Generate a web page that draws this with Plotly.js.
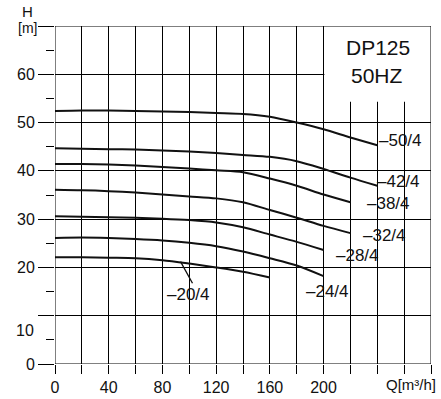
<!DOCTYPE html>
<html>
<head>
<meta charset="utf-8">
<script src="https://cdn.plot.ly/plotly-3.0.1.min.js"></script>
<style>html,body{margin:0;padding:0;background:#fff;}#chart{width:441px;height:399px;}</style>
</head>
<body>
<div id="chart"></div>
<script>
// ---- data ----
const curveNames = ["50/4", "42/4", "38/4", "32/4", "28/4", "24/4", "20/4"];
const q50 = [0,20,40,60,80,100,120,140,160,180,200,220,240];
const h50 = [52.4,52.5,52.5,52.4,52.3,52.2,52.0,51.8,51.2,50.0,48.6,46.9,45.3];
const q42 = [0,20,40,60,80,100,120,140,160,180,200,220,240];
const h42 = [44.7,44.6,44.5,44.4,44.2,44.0,43.7,43.3,42.9,42.0,40.4,38.6,36.9];
const q38 = [0,20,40,60,80,100,120,140,160,180,200,220];
const h38 = [41.4,41.4,41.3,41.1,40.8,40.5,40.1,39.7,38.4,36.9,35.1,33.5];
const q32 = [0,20,40,60,80,100,120,140,160,180,200,220];
const h32 = [36.1,36.0,35.8,35.5,35.1,34.7,34.3,33.5,31.9,30.3,28.6,27.1];
const q28 = [0,20,40,60,80,100,120,140,160,180,200];
const h28 = [30.6,30.5,30.4,30.3,30.1,29.8,29.3,28.3,26.8,25.3,23.6];
const q24 = [0,20,40,60,80,100,120,140,160,180,200];
const h24 = [26.1,26.2,26.1,25.9,25.6,25.1,24.4,23.3,21.9,20.4,18.2];
const q20 = [0,20,40,60,80,100,120,140,160];
const h20 = [22.1,22.1,22.0,21.9,21.5,20.8,20.0,19.1,17.9];

// label anchor points (q, H) for each curve name
const labelQ = [239.5, 238.5, 231.0, 228.0, 208.0, 185.5, 82.0];
const labelH = [46.2, 37.9, 33.3, 26.7, 22.4, 15.1, 14.3];
// leader line for the 20/4 label
const leaderQ = [93.5, 103.0];
const leaderH = [21.2, 16.4];

const xTickVals = [0,20,40,60,80,100,120,140,160,180,200,220,240,260,280];
const xTickText = ["0","","40","","80","","120","","160","","200","","","",""];
const yTickVals = [0,10,20,30,40,50,60,70];
const yTickText = ["0","","20","30","40","50","60",""];
const yMinorVals = [5,15,25,35,45,55,65];
const modelText = "DP125";
const freqText = "50HZ";

// ---- drawing ----
const FONT = "'Liberation Sans', Arial, sans-serif";
const ink = "#111";
const gridInk = "#000";
const qs = [q50,q42,q38,q32,q28,q24,q20];
const hs = [h50,h42,h38,h32,h28,h24,h20];
const traces = qs.map((q,i)=>({
  x: q, y: hs[i], type: "scatter", mode: "lines",
  line: {color: ink, width: 2, shape: "spline", smoothing: 0.8},
  hoverinfo: "skip", showlegend: false, name: curveNames[i]
}));

const annotations = curveNames.map((n,i)=>({
  x: labelQ[i], y: labelH[i], xref: "x", yref: "y",
  text: "\u2013" + n, showarrow: false, xanchor: "left", yanchor: "middle",
  font: {family: FONT, size: 17, color: ink}
}));
annotations.push({
  x: leaderQ[0], y: leaderH[0], ax: leaderQ[1], ay: leaderH[1],
  xref: "x", yref: "y", axref: "x", ayref: "y",
  text: "", showarrow: true, arrowhead: 0, arrowwidth: 1.3, arrowcolor: ink
});
annotations.push({x: 240.5, y: 65.6, xref: "x", yref: "y", text: modelText, showarrow: false,
  xanchor: "center", yanchor: "middle", font: {family: FONT, size: 21, color: ink}});
annotations.push({x: 240.0, y: 59.8, xref: "x", yref: "y", text: freqText, showarrow: false,
  xanchor: "center", yanchor: "middle", font: {family: FONT, size: 21, color: ink}});
annotations.push({x: -0.05, y: 7.0, xref: "paper", yref: "y", xanchor: "right", yanchor: "middle",
  text: "10", showarrow: false, font: {family: FONT, size: 16, color: ink}});
annotations.push({x: -0.074, y: 1.042, xref: "paper", yref: "paper", text: "H", showarrow: false,
  xanchor: "center", yanchor: "middle", font: {family: FONT, size: 15, color: ink}});
annotations.push({x: -0.074, y: 0.994, xref: "paper", yref: "paper", text: "[m]", showarrow: false,
  xanchor: "center", yanchor: "middle", font: {family: FONT, size: 14, color: ink}});
annotations.push({x: 0.946, y: -0.062, xref: "paper", yref: "paper", text: "Q[m\u00b3/h]", showarrow: false,
  xanchor: "center", yanchor: "middle", font: {family: FONT, size: 15, color: ink}});

const layout = {
  width: 441, height: 399,
  margin: {l: 55, r: 10, t: 26, b: 35},
  paper_bgcolor: "#fff", plot_bgcolor: "#fff",
  showlegend: false,
  font: {family: FONT, size: 16, color: ink},
  xaxis: {
    range: [0, 280], tickmode: "array", tickvals: xTickVals, ticktext: xTickText,
    showgrid: true, gridcolor: gridInk, gridwidth: 1, zeroline: false, showline: false,
    ticks: "outside", ticklen: 9, tickwidth: 1, tickcolor: gridInk,
    tickfont: {family: FONT, size: 16, color: ink}, fixedrange: true
  },
  yaxis: {
    range: [0, 70], tickmode: "array", tickvals: yTickVals, ticktext: yTickText,
    showgrid: true, gridcolor: gridInk, gridwidth: 1, zeroline: false, showline: false,
    ticks: "outside", ticklen: 16, tickwidth: 1, tickcolor: gridInk,
    tickfont: {family: FONT, size: 16, color: ink}, fixedrange: true,
    minor: {tickmode: "array", tickvals: yMinorVals, ticks: "outside", ticklen: 8,
            tickwidth: 1, tickcolor: gridInk, showgrid: false}
  },
  shapes: [
    {type: "rect", xref: "x", yref: "y", x0: 200.6, x1: 280, y0: 54.3, y1: 70,
     fillcolor: "#fff", line: {width: 0}, layer: "above"},
    {type: "rect", xref: "x", yref: "y", x0: 0, x1: 280, y0: 0, y1: 70,
     fillcolor: "rgba(0,0,0,0)", line: {color: gridInk, width: 1}, layer: "above"}
  ],
  annotations: annotations
};
Plotly.newPlot("chart", traces, layout, {staticPlot: true, displayModeBar: false});
</script>
</body>
</html>
